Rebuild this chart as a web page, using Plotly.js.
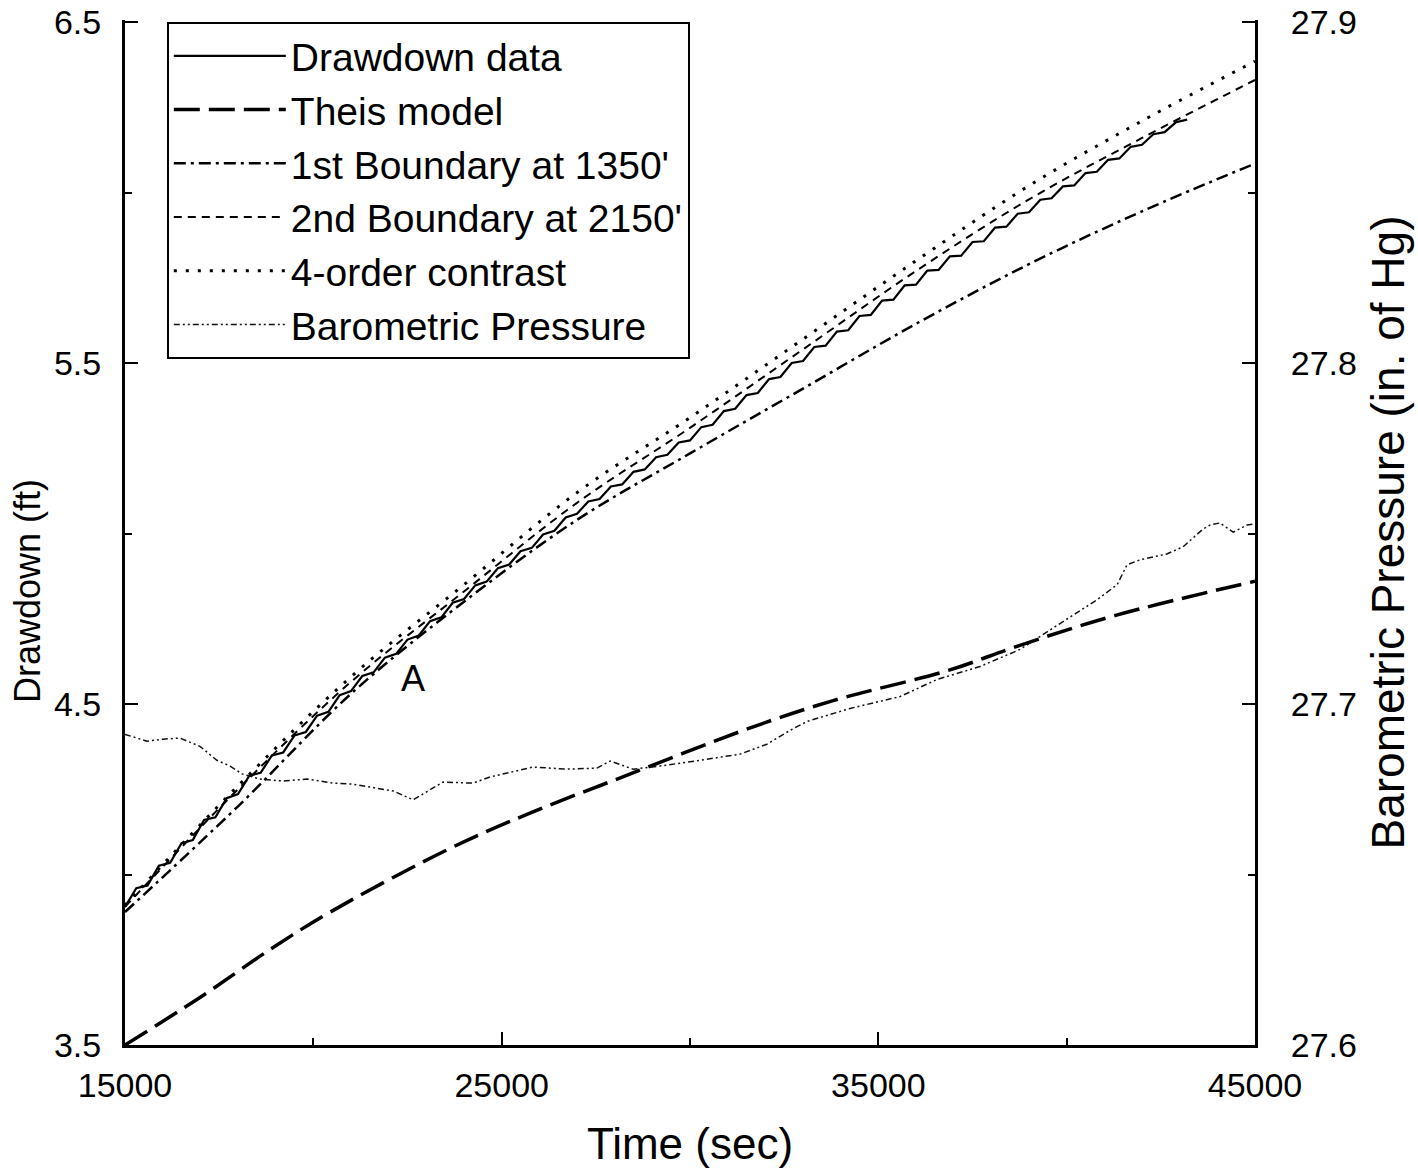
<!DOCTYPE html>
<html>
<head>
<meta charset="utf-8">
<script src="https://cdn.plot.ly/plotly-3.0.1.min.js"></script>
<style>html,body{margin:0;padding:0;background:#fff;}#chart{width:1418px;height:1171px;}</style>
</head>
<body>
<div id="chart"></div>
<script>
// ---- Drawdown data (ft) ----
const drawTime = [15000,15300,15600,15900,16200,16500,16800,17100,17400,17700,18000,18300,18600,18900,19200,19500,19800,20100,20400,20700,21000,21300,21600,21900,22200,22500,22800,23100,23400,23700,24000,24300,24600,24900,25200,25500,25800,26100,26400,26700,27000,27300,27600,27900,28200,28500,28800,29100,29400,29700,30000,30300,30600,30900,31200,31500,31800,32100,32400,32700,33000,33300,33600,33900,34200,34500,34800,35100,35400,35700,36000,36300,36600,36900,37200,37500,37800,38100,38400,38700,39000,39300,39600,39900,40200,40500,40800,41100,41400,41700,42000,42300,42600,42900,43200];
const drawValue = [3.905,3.960,3.968,4.026,4.034,4.092,4.101,4.160,4.168,4.224,4.236,4.290,4.298,4.349,4.358,4.408,4.418,4.466,4.477,4.526,4.538,4.582,4.593,4.636,4.647,4.689,4.701,4.743,4.754,4.797,4.808,4.848,4.859,4.898,4.909,4.948,4.958,4.997,5.008,5.047,5.058,5.094,5.101,5.138,5.144,5.181,5.188,5.224,5.231,5.267,5.273,5.312,5.319,5.359,5.366,5.406,5.412,5.453,5.459,5.500,5.506,5.547,5.551,5.592,5.596,5.638,5.641,5.683,5.686,5.728,5.730,5.771,5.773,5.813,5.815,5.855,5.857,5.897,5.900,5.938,5.942,5.979,5.983,6.018,6.021,6.057,6.061,6.096,6.100,6.134,6.140,6.171,6.177,6.206,6.214];

// ---- Theis model ----
const theisTime  = [15000,17000,18850,20450,23600,25750,28300,31600,33800,36900,38700,41300,45000];
const theisValue = [3.50,3.64,3.78,3.89,4.075,4.18,4.29,4.43,4.51,4.60,4.67,4.76,4.86];

// ---- Model curves (shared times) ----
const modelTime = [15000,18000,21000,24000,27000,30000,33000,36000,39000,42000,45000];
const bound1Value = [3.89,4.20,4.53,4.80,5.04,5.235,5.425,5.615,5.79,5.945,6.085];
const bound2Value = [3.905,4.25,4.565,4.83,5.09,5.31,5.54,5.77,5.98,6.16,6.33];
const contrastValue = [3.91,4.26,4.58,4.85,5.12,5.34,5.57,5.80,6.02,6.21,6.385];

// ---- Barometric pressure (in. of Hg) ----
const baroTime = [15000,15580,16010,16460,16990,17440,17790,18110,18580,19200,19830,20520,21050,21580,22120,22650,23180,23440,24240,24690,25830,26740,27530,27880,28490,29200,30270,31330,32040,32660,33110,34250,35580,36560,37700,38760,39740,40430,40810,41340,41600,41950,42660,43090,43620,43810,44070,44420,44790,45000];
const baroValue = [27.6911,27.6891,27.6897,27.6900,27.6876,27.6835,27.6818,27.6795,27.6780,27.6774,27.6780,27.6768,27.6765,27.6754,27.6745,27.6719,27.6754,27.6771,27.6768,27.6786,27.6815,27.6809,27.6812,27.6833,27.6809,27.6818,27.6835,27.6853,27.6882,27.6923,27.6949,27.6987,27.7022,27.7072,27.7110,27.7160,27.7230,27.7279,27.7306,27.7350,27.7408,27.7423,27.7440,27.7461,27.7513,27.7525,27.7531,27.7504,27.7525,27.7528];

const seriesNames = ["Drawdown data","Theis model","1st Boundary at 1350'","2nd Boundary at 2150'","4-order contrast","Barometric Pressure"];
const xTickVals = [15000,25000,35000,45000];
const yTickVals = [3.5,4.5,5.5,6.5];
const y2TickVals = [27.6,27.7,27.8,27.9];

const FONT = "Liberation Sans, Arial, Helvetica, sans-serif";

const traces = [
  {x: drawTime, y: drawValue, name: seriesNames[0], mode: "lines", line: {color: "#000", width: 2.2}},
  {x: theisTime, y: theisValue, name: seriesNames[1], mode: "lines", line: {color: "#000", width: 3.5, dash: "26px,9px", shape: "spline"}},
  {x: modelTime, y: bound1Value, name: seriesNames[2], mode: "lines", line: {color: "#000", width: 2.5, dash: "12px,5px,3px,5px", shape: "spline"}},
  {x: modelTime, y: bound2Value, name: seriesNames[3], mode: "lines", line: {color: "#000", width: 2, dash: "8px,6px", shape: "spline"}},
  {x: modelTime, y: contrastValue, name: seriesNames[4], mode: "lines", line: {color: "#000", width: 3, dash: "3px,9px", shape: "spline"}},
  {x: baroTime, y: baroValue, name: seriesNames[5], mode: "lines", yaxis: "y2", line: {color: "#111", width: 1.5, dash: "6px,3px,2px,3px,2px,3px"}}
];

const axisCommon = {
  showgrid: false, zeroline: false, showline: true, linecolor: "#000", linewidth: 3,
  ticks: "inside", ticklen: 13, tickwidth: 2, tickcolor: "#000",
  ticklabeloverflow: "allow",
  tickfont: {family: FONT, size: 34, color: "#000"}
};

const layout = {
  width: 1418, height: 1171,
  margin: {l: 125, r: 163, t: 20, b: 126, pad: 0},
  paper_bgcolor: "#fff", plot_bgcolor: "#fff",
  font: {family: FONT, color: "#000"},
  showlegend: true,
  legend: {
    x: 0.037, y: 0.998, xanchor: "left", yanchor: "top",
    bordercolor: "#000", borderwidth: 2, bgcolor: "#fff",
    font: {family: FONT, size: 39, color: "#000"},
    itemwidth: 112, tracegroupgap: 0
  },
  xaxis: Object.assign({}, axisCommon, {
    range: [15000, 45000], tickvals: xTickVals, ticktext: xTickVals.map(String),
    ticklabelstandoff: 8,
    minor: {tickvals: [20000, 30000, 40000], ticks: "inside", ticklen: 7, tickwidth: 2, tickcolor: "#000"},
    title: {text: "Time (sec)", font: {family: FONT, size: 44, color: "#000"}, standoff: 26}
  }),
  yaxis: Object.assign({}, axisCommon, {
    range: [3.5, 6.506], tickvals: yTickVals, ticktext: yTickVals.map(v => v.toFixed(1)),
    ticklabelstandoff: 14,
    minor: {tickvals: [4.0, 5.0, 6.0], ticks: "inside", ticklen: 7, tickwidth: 2, tickcolor: "#000"}
  }),
  yaxis2: Object.assign({}, axisCommon, {
    overlaying: "y", side: "right",
    range: [27.6, 27.9006], tickvals: y2TickVals, ticktext: y2TickVals.map(v => v.toFixed(1)),
    ticklabelstandoff: 26,
    minor: {tickvals: [27.65, 27.75, 27.85], ticks: "inside", ticklen: 7, tickwidth: 2, tickcolor: "#000"},
    title: {text: "Barometric Pressure (in. of Hg)", font: {family: FONT, size: 46, color: "#000"}, standoff: 16}
  }),
  annotations: [
    {x: 22650, y: 4.575, xref: "x", yref: "y", text: "A", showarrow: false,
     font: {family: FONT, size: 36, color: "#000"}},
    {x: -0.0858, y: 0.443, xref: "paper", yref: "paper", text: "Drawdown (ft)", textangle: -90,
     showarrow: false, xanchor: "center", yanchor: "middle",
     font: {family: FONT, size: 36, color: "#000"}}
  ]
};

Plotly.newPlot("chart", traces, layout, {staticPlot: true, displayModeBar: false});
</script>
</body>
</html>
